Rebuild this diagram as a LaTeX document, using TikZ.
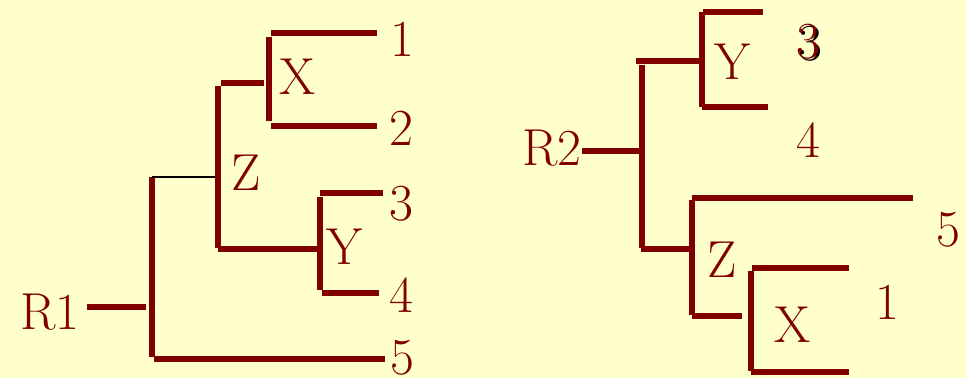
\documentclass[tikz,border=0pt]{standalone}
\definecolor{bg}{HTML}{FFFFCC}
\definecolor{dred}{HTML}{800000}
\begin{document}
\begin{tikzpicture}[x=1pt,y=-1pt,
  br/.style={draw=dred,line width=6pt},
  thin/.style={draw=black,line width=2pt},
  lbl/.style={text=dred,inner sep=0pt,font=\fontsize{52}{60}\selectfont}]
\fill[bg] (0,0) rectangle (966,378);
\useasboundingbox (0,0) rectangle (966,378);
% ---------- left tree ----------
\coordinate (a1) at (87,307);  \coordinate (a2) at (146,307);
\coordinate (b1) at (152,177); \coordinate (b2) at (152,357);
\coordinate (c1) at (152,177); \coordinate (c2) at (217,177);
\coordinate (d1) at (218,86);  \coordinate (d2) at (218,248);
\coordinate (e1) at (221,83);  \coordinate (e2) at (264,83);
\coordinate (f1) at (269,37);  \coordinate (f2) at (269,121);
\coordinate (g1) at (271,33);  \coordinate (g2) at (377,33);
\coordinate (h1) at (271,126); \coordinate (h2) at (377,126);
\coordinate (i1) at (218,249); \coordinate (i2) at (317,249);
\coordinate (j1) at (320,197); \coordinate (j2) at (320,290);
\coordinate (k1) at (320,193); \coordinate (k2) at (383,193);
\coordinate (l1) at (322,293); \coordinate (l2) at (379,293);
\coordinate (m1) at (154,359); \coordinate (m2) at (385,359);
\draw[br] (a1) -- (a2);
\draw[br] (b1) -- (b2);
\draw[thin] (c1) -- (c2);
\draw[br] (d1) -- (d2);
\draw[br] (e1) -- (e2);
\draw[br] (f1) -- (f2);
\draw[br] (g1) -- (g2);
\draw[br] (h1) -- (h2);
\draw[br] (i1) -- (i2);
\draw[br] (j1) -- (j2);
\draw[br] (k1) -- (k2);
\draw[br] (l1) -- (l2);
\draw[br] (m1) -- (m2);
\node[lbl] (R1) at (50,312) {R1};
\node[lbl] (X1) at (298,77) {X};
\node[lbl] (Z1) at (246,173) {Z};
\node[lbl] (Y1) at (345,247) {Y};
\node[lbl] (n1) at (402,39) {1};
\node[lbl] (n2) at (401,128) {2};
\node[lbl] (n3) at (401,204) {3};
\node[lbl] (n4) at (401,295) {4};
\node[lbl] (n5) at (402,358) {5};
% ---------- right tree ----------
\coordinate (p1) at (703,12);  \coordinate (p2) at (763,12);
\coordinate (q1) at (702,12);  \coordinate (q2) at (702,107);
\coordinate (r1) at (702,107); \coordinate (r2) at (768,107);
\coordinate (s1) at (636,61);  \coordinate (s2) at (702,61);
\coordinate (t1) at (642,65);  \coordinate (t2) at (642,248);
\coordinate (u1) at (582,151); \coordinate (u2) at (640,151);
\coordinate (v1) at (641,249); \coordinate (v2) at (690,249);
\coordinate (w1) at (692,200); \coordinate (w2) at (692,315);
\coordinate (x1) at (692,198); \coordinate (x2) at (913,198);
\coordinate (y1) at (692,316); \coordinate (y2) at (742,316);
\coordinate (z1) at (751,271); \coordinate (z2) at (751,371);
\coordinate (o1) at (752,268); \coordinate (o2) at (849,268);
\coordinate (o3) at (751,372); \coordinate (o4) at (849,372);
\draw[br] (p1) -- (p2);
\draw[br] (q1) -- (q2);
\draw[br] (r1) -- (r2);
\draw[br] (s1) -- (s2);
\draw[br] (t1) -- (t2);
\draw[br] (u1) -- (u2);
\draw[br] (v1) -- (v2);
\draw[br] (w1) -- (w2);
\draw[br] (x1) -- (x2);
\draw[br] (y1) -- (y2);
\draw[br] (z1) -- (z2);
\draw[br] (o1) -- (o2);
\draw[br] (o3) -- (o4);
\node[lbl] (R2) at (552,148) {R2};
\node[lbl] (Y2) at (733,62) {Y};
\node[lbl,text=black] (m3s) at (810,44) {3};
\node[lbl] (m3) at (808,42) {3};
\node[lbl] (m4) at (808,140) {4};
\node[lbl] (m5) at (948,230) {5};
\node[lbl] (Z2) at (722,260) {Z};
\node[lbl] (X2) at (793,325) {X};
\node[lbl] (m1n) at (887,302) {1};
\end{tikzpicture}
\end{document}
